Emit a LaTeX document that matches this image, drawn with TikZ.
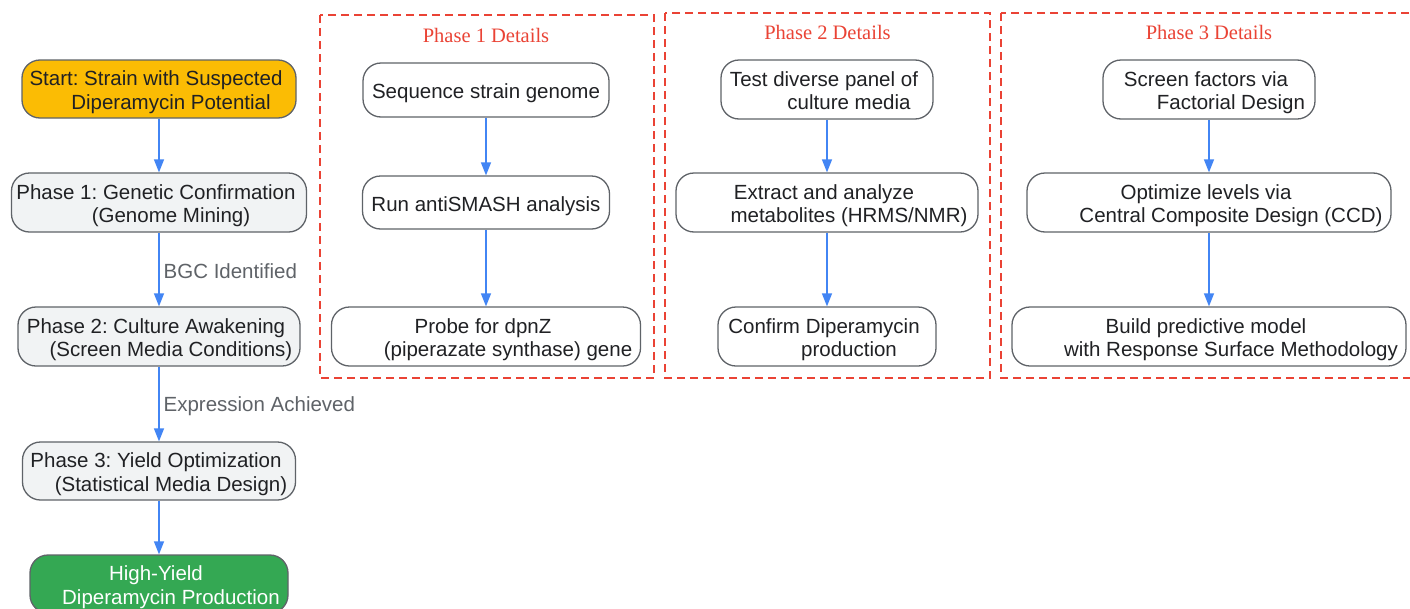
\documentclass[tikz,border=0pt]{standalone}
\usepackage{fontspec}
\setmainfont{Liberation Sans}
\newfontfamily\titlefont{Liberation Serif}
\usetikzlibrary{arrows.meta}
\frenchspacing
\definecolor{cBorder}{HTML}{5F6368}
\definecolor{cText}{HTML}{202124}
\definecolor{cYellow}{HTML}{FBBC04}
\definecolor{cGreen}{HTML}{34A853}
\definecolor{cGrey}{HTML}{F1F3F4}
\definecolor{cBlue}{HTML}{4285F4}
\definecolor{cRed}{HTML}{EA4335}
\definecolor{cLabel}{HTML}{5F6368}
\newcommand\Lft[1]{\rule{0pt}{22pt}#1\kern6pt\null}
\newcommand\Rgt[2]{\null\kern#1pt #2\rule[-5pt]{0pt}{0pt}}
\newcommand\One[1]{\rule{0pt}{22pt}#1\rule[-5pt]{0pt}{0pt}}
\begin{document}
\begin{tikzpicture}[x=1pt,y=-1pt,
  box/.style={draw=cBorder, line width=1.3pt, rounded corners=18pt, inner sep=0pt,
    align=center, font=\fontsize{20.5}{23.5}\selectfont\frenchspacing, text=cText},
  flow/.style={draw=cBlue, line width=1.3pt, -{Triangle[length=13pt,width=10pt]}},
  cluster/.style={draw=cRed, line width=1.3pt, dash pattern=on 8pt off 5pt},
  ctitle/.style={font=\titlefont\fontsize{20.5}{24}\selectfont, text=cRed, inner sep=0pt},
  elabel/.style={font=\fontsize{20.5}{23.5}\selectfont, text=cLabel, anchor=west, inner sep=0pt, xshift=4pt, yshift=-2pt}]
\clip (0,0) rectangle (1410,608);
\useasboundingbox (0,0) rectangle (1410,608);
\fill[white] (0,0) rectangle (1410,608);

% clusters
\draw[cluster] (320,15) rectangle (654,378);
\draw[cluster] (665,13) rectangle (990,378);
\draw[cluster] (1001,13) rectangle (1425,378);
\node[ctitle] (c1) at (486,35) {Phase 1 Details};
\node[ctitle] (c2) at (827.5,32) {Phase 2 Details};
\node[ctitle] (c3) at (1209,32) {Phase 3 Details};

% main column
\node[box, fill=cYellow, minimum width=274pt, minimum height=58pt] (start) at (159,89)
  {\Lft{Start: Strain with Suspected}\\\Rgt{24}{Diperamycin Potential}};
\node[box, fill=cGrey, minimum width=295pt, minimum height=59pt] (p1) at (159,202.5)
  {\Lft{Phase 1: Genetic Confirmation}\\\Rgt{24}{(Genome Mining)}};
\node[box, fill=cGrey, minimum width=282pt, minimum height=59pt] (p2) at (159,336.5)
  {\Lft{Phase 2: Culture Awakening}\\\Rgt{24}{(Screen Media Conditions)}};
\node[box, fill=cGrey, minimum width=273pt, minimum height=58pt] (p3) at (159,471)
  {\Lft{Phase 3: Yield Optimization}\\\Rgt{24}{(Statistical Media Design)}};
\node[box, fill=cGreen, text=white, minimum width=258pt, minimum height=58pt] (fin) at (159,584)
  {\Lft{High-Yield}\\\Rgt{24}{Diperamycin Production}};

% phase 1
\node[box, fill=white, minimum width=246pt, minimum height=54pt] (s1) at (486,90)
  {\One{Sequence strain genome}};
\node[box, fill=white, minimum width=247pt, minimum height=53pt] (s2) at (486,202.5)
  {\One{Run antiSMASH analysis}};
\node[box, fill=white, minimum width=309pt, minimum height=59pt] (s3) at (486,336.5)
  {\Lft{Probe for dpnZ}\\\Rgt{44}{(piperazate synthase) gene}};

% phase 2
\node[box, fill=white, minimum width=212pt, minimum height=59pt] (t1) at (827,89.5)
  {\Lft{Test diverse panel of}\\\Rgt{44}{culture media}};
\node[box, fill=white, minimum width=302pt, minimum height=59pt] (t2) at (827,202.5)
  {\Lft{Extract and analyze}\\\Rgt{44}{metabolites (HRMS/NMR)}};
\node[box, fill=white, minimum width=218pt, minimum height=59pt] (t3) at (827,336.5)
  {\Lft{Confirm Diperamycin}\\\Rgt{44}{production}};

% phase 3
\node[box, fill=white, minimum width=212pt, minimum height=59pt] (u1) at (1209,89.5)
  {\Lft{Screen factors via}\\\Rgt{44}{Factorial Design}};
\node[box, fill=white, minimum width=364pt, minimum height=59pt] (u2) at (1209,202.5)
  {\Lft{Optimize levels via}\\\Rgt{44}{Central Composite Design (CCD)}};
\node[box, fill=white, minimum width=394pt, minimum height=59pt] (u3) at (1209,336.5)
  {\Lft{Build predictive model}\\\Rgt{44}{with Response Surface Methodology}};

% connectors
\draw[flow] (start) -- (p1);
\draw[flow] (p1) -- node[elabel] (l1) {BGC Identified} (p2);
\draw[flow] (p2) -- node[elabel] (l2) {Expression Achieved} (p3);
\draw[flow] (p3) -- (fin);
\draw[flow] (s1) -- (s2);
\draw[flow] (s2) -- (s3);
\draw[flow] (t1) -- (t2);
\draw[flow] (t2) -- (t3);
\draw[flow] (u1) -- (u2);
\draw[flow] (u2) -- (u3);
\end{tikzpicture}
\end{document}
